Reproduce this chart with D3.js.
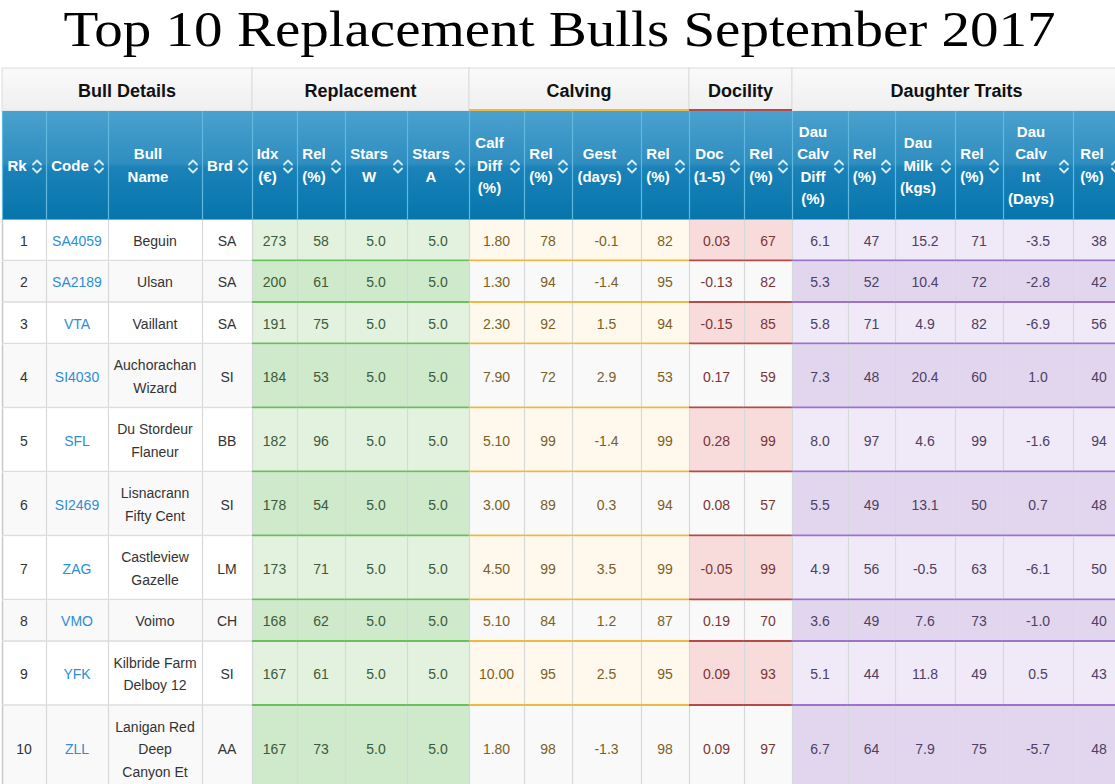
<!DOCTYPE html>
<html>
<head>
<meta charset="utf-8">
<script src="https://cdn.jsdelivr.net/npm/d3@7"></script>
<style>
  body { margin: 0; background: #fff; }
  svg { display: block; }
</style>
</head>
<body>
<svg id="chart"></svg>
<script>
// table values
var ranks      = [1, 2, 3, 4, 5, 6, 7, 8, 9, 10];
var codes      = ['SA4059', 'SA2189', 'VTA', 'SI4030', 'SFL', 'SI2469', 'ZAG', 'VMO', 'YFK', 'ZLL'];
var bullNames  = ['Beguin', 'Ulsan', 'Vaillant', 'Auchorachan\nWizard', 'Du Stordeur\nFlaneur',
                  'Lisnacrann\nFifty Cent', 'Castleview\nGazelle', 'Voimo', 'Kilbride Farm\nDelboy 12',
                  'Lanigan Red\nDeep\nCanyon Et'];
var breeds     = ['SA', 'SA', 'SA', 'SI', 'BB', 'SI', 'LM', 'CH', 'SI', 'AA'];

var replIdx    = [273, 200, 191, 184, 182, 178, 173, 168, 167, 167];
var replRel    = [58, 61, 75, 53, 96, 54, 71, 62, 61, 73];
var starsW     = [5.0, 5.0, 5.0, 5.0, 5.0, 5.0, 5.0, 5.0, 5.0, 5.0];
var starsA     = [5.0, 5.0, 5.0, 5.0, 5.0, 5.0, 5.0, 5.0, 5.0, 5.0];

var calfDiff   = [1.80, 1.30, 2.30, 7.90, 5.10, 3.00, 4.50, 5.10, 10.00, 1.80];
var calfRel    = [78, 94, 92, 72, 99, 89, 99, 84, 95, 98];
var gestDays   = [-0.1, -1.4, 1.5, 2.9, -1.4, 0.3, 3.5, 1.2, 2.5, -1.3];
var gestRel    = [82, 95, 94, 53, 99, 94, 99, 87, 95, 98];

var docility   = [0.03, -0.13, -0.15, 0.17, 0.28, 0.08, -0.05, 0.19, 0.09, 0.09];
var docRel     = [67, 82, 85, 59, 99, 57, 99, 70, 93, 97];

var dauCalvDiff    = [6.1, 5.3, 5.8, 7.3, 8.0, 5.5, 4.9, 3.6, 5.1, 6.7];
var dauCalvDiffRel = [47, 52, 71, 48, 97, 49, 56, 49, 44, 64];
var dauMilk        = [15.2, 10.4, 4.9, 20.4, 4.6, 13.1, -0.5, 7.6, 11.8, 7.9];
var dauMilkRel     = [71, 72, 82, 60, 99, 50, 63, 73, 49, 75];
var dauCalvInt     = [-3.5, -2.8, -6.9, 1.0, -1.6, 0.7, -6.1, -1.0, 0.5, -5.7];
var dauCalvIntRel  = [38, 42, 56, 40, 94, 48, 50, 40, 43, 48];

var groupNames = ['Bull Details', 'Replacement', 'Calving', 'Docility', 'Daughter Traits'];

var headerLabels = ['Rk', 'Code', 'Bull\nName', 'Brd',
                    'Idx\n(€)', 'Rel\n(%)', 'Stars\nW', 'Stars\nA',
                    'Calf\nDiff\n(%)', 'Rel\n(%)', 'Gest\n(days)', 'Rel\n(%)',
                    'Doc\n(1-5)', 'Rel\n(%)',
                    'Dau\nCalv\nDiff\n(%)', 'Rel\n(%)', 'Dau\nMilk\n(kgs)', 'Rel\n(%)', 'Dau\nCalv\nInt\n(Days)', 'Rel\n(%)'];

var title = 'Top 10 Replacement Bulls September 2017';

// column setup: which series, which group, how to print it
// d3.format gives a unicode minus, the site shows a plain hyphen
var hy = function (f) { return function (v) { return f(v).replace('\u2212', '-'); }; };
var f0 = hy(d3.format('d')), f1 = hy(d3.format('.1f')), f2 = hy(d3.format('.2f'));
var columns = [
  { values: ranks,          group: 0, fmt: f0 },
  { values: codes,          group: 0, fmt: String, link: true },
  { values: bullNames,      group: 0, fmt: String },
  { values: breeds,         group: 0, fmt: String },
  { values: replIdx,        group: 1, fmt: f0 },
  { values: replRel,        group: 1, fmt: f0 },
  { values: starsW,         group: 1, fmt: f1 },
  { values: starsA,         group: 1, fmt: f1 },
  { values: calfDiff,       group: 2, fmt: f2 },
  { values: calfRel,        group: 2, fmt: f0 },
  { values: gestDays,       group: 2, fmt: f1 },
  { values: gestRel,        group: 2, fmt: f0 },
  { values: docility,       group: 3, fmt: f2 },
  { values: docRel,         group: 3, fmt: f0 },
  { values: dauCalvDiff,    group: 4, fmt: f1 },
  { values: dauCalvDiffRel, group: 4, fmt: f0 },
  { values: dauMilk,        group: 4, fmt: f1 },
  { values: dauMilkRel,     group: 4, fmt: f0 },
  { values: dauCalvInt,     group: 4, fmt: f1 },
  { values: dauCalvIntRel,  group: 4, fmt: f0 }
];

// layout (pixels)
var colWidths = [44, 62, 94, 50, 45, 48, 62, 62, 55, 48, 69, 48, 55, 48, 56, 47, 60, 48, 70, 52];
var svgWidth = 1115, svgHeight = 784;
var tableLeft = 2, groupTop = 68, groupH = 43, headH = 109;
var lineH = 22.5, rowPad = 19;

// per group styles: [odd row, even row] fills, text colour, bottom rule
var groupFill   = [['#ffffff', '#f9f9f9'], ['#e2f2df', '#cfe9cb'], ['#fef9ec', '#f9f9f9'],
                   ['#f8dcdc', '#f9f9f9'], ['#f0e9f7', '#e2d6ef']];
var groupText   = ['#333333', '#3d5a3a', '#7c5f24', '#7b3535', '#4d4063'];
var groupRule   = ['#dddddd', '#6abf5e', '#efb743', '#b54b48', '#9b72cc'];
var groupUnder  = [null, null, '#efb743', '#b54b48', null];

var colX = [tableLeft].concat(Array.from(d3.cumsum(colWidths), function (d) { return tableLeft + d; }));
var xScale = d3.scaleOrdinal().domain(d3.range(columns.length)).range(colX.slice(0, -1));
var wScale = d3.scaleOrdinal().domain(d3.range(columns.length)).range(colWidths);

var nLines = bullNames.map(function (n) { return n.split('\n').length; });
var rowHeights = nLines.map(function (n) { return rowPad + lineH * n; });
var bodyTop = groupTop + groupH + headH;
var rowY = [bodyTop].concat(Array.from(d3.cumsum(rowHeights), function (d) { return bodyTop + d; }));
var yScale = d3.scaleOrdinal().domain(d3.range(ranks.length)).range(rowY.slice(0, -1));

var svg = d3.select('#chart').attr('width', svgWidth).attr('height', svgHeight);
var font = 'Helvetica, Arial, "Liberation Sans", sans-serif';

var defs = svg.append('defs');
var gradHead = defs.append('linearGradient').attr('id', 'gradHead').attr('x1', 0).attr('y1', 0).attr('x2', 0).attr('y2', 1);
[['0%', '#4aa1cd'], ['48%', '#2f8dc0'], ['52%', '#1b82b8'], ['100%', '#0575ab']].forEach(function (s) {
  gradHead.append('stop').attr('offset', s[0]).attr('stop-color', s[1]);
});
var gradGroup = defs.append('linearGradient').attr('id', 'gradGroup').attr('x1', 0).attr('y1', 0).attr('x2', 0).attr('y2', 1);
[['0%', '#fafafa'], ['100%', '#efefef']].forEach(function (s) {
  gradGroup.append('stop').attr('offset', s[0]).attr('stop-color', s[1]);
});

// title
svg.append('text')
  .attr('x', svgWidth / 2 + 2)
  .attr('y', 46)
  .attr('text-anchor', 'middle')
  .attr('textLength', 992)
  .attr('lengthAdjust', 'spacingAndGlyphs')
  .style('font-family', '"Liberation Serif", "Times New Roman", serif')
  .style('font-size', '50px')
  .style('fill', '#000')
  .text(title);

// ---- group header row ----
var groups = groupNames.map(function (name, gi) {
  var idx = d3.range(columns.length).filter(function (i) { return columns[i].group === gi; });
  var x0 = xScale(idx[0]), last = idx[idx.length - 1];
  return { name: name, gi: gi, x0: x0, x1: xScale(last) + wScale(last) };
});

var gh = svg.append('g').attr('class', 'group-head');
gh.selectAll('rect').data(groups).enter().append('rect')
  .attr('x', function (d) { return d.x0; })
  .attr('y', groupTop)
  .attr('width', function (d) { return d.x1 - d.x0; })
  .attr('height', groupH)
  .attr('fill', 'url(#gradGroup)')
  .attr('stroke', '#dcdcdc')
  .attr('stroke-width', 1);
gh.selectAll('line.under').data(groups.filter(function (d) { return groupUnder[d.gi]; })).enter().append('line')
  .attr('class', 'under')
  .attr('x1', function (d) { return d.x0; })
  .attr('x2', function (d) { return d.x1; })
  .attr('y1', groupTop + groupH - 1)
  .attr('y2', groupTop + groupH - 1)
  .attr('stroke', function (d) { return groupUnder[d.gi]; })
  .attr('stroke-width', 2);
gh.selectAll('text').data(groups).enter().append('text')
  .attr('x', function (d) { return (d.x0 + Math.min(d.x1, svgWidth + 6)) / 2; })
  .attr('y', groupTop + groupH / 2 + 7)
  .attr('text-anchor', 'middle')
  .style('font-family', font)
  .style('font-weight', 'bold')
  .style('font-size', '18px')
  .style('fill', '#111')
  .text(function (d) { return d.name; });

// ---- blue column header row ----
var headTop = groupTop + groupH;
var hh = svg.append('g').attr('class', 'col-head');
hh.append('rect')
  .attr('x', tableLeft).attr('y', headTop)
  .attr('width', colX[colX.length - 1] - tableLeft).attr('height', headH)
  .attr('fill', 'url(#gradHead)');

var hcell = hh.selectAll('g.hcell').data(headerLabels).enter().append('g')
  .attr('class', 'hcell')
  .attr('transform', function (d, i) { return 'translate(' + xScale(i) + ',' + headTop + ')'; });

hcell.append('line')
  .attr('x1', 0.5).attr('x2', 0.5).attr('y1', 0).attr('y2', headH)
  .attr('stroke', '#62b9e0').attr('stroke-width', 1.2);

hcell.append('text')
  .attr('text-anchor', 'middle')
  .style('font-family', font)
  .style('font-weight', 'bold')
  .style('font-size', '15px')
  .style('fill', '#fff')
  .each(function (d, i) {
    var lines = d.split('\n');
    var cx = (6 + wScale(i) - 20) / 2;
    var y0 = headH / 2 - (lines.length - 1) * lineH / 2 + 5;
    d3.select(this).selectAll('tspan').data(lines).enter().append('tspan')
      .attr('x', cx)
      .attr('y', function (l, k) { return y0 + k * lineH; })
      .text(function (l) { return l; });
  });

// sort chevrons
hcell.append('path')
  .attr('transform', function (d, i) { return 'translate(' + (wScale(i) - 9) + ',' + (headH / 2 + 1) + ')'; })
  .attr('d', 'M-4,-2 L0,-6 L4,-2 M-4,2 L0,6 L4,2')
  .attr('fill', 'none')
  .attr('stroke', '#d4eaf5')
  .attr('stroke-width', 1.8)
  .attr('stroke-linecap', 'round')
  .attr('stroke-linejoin', 'round');

hh.append('line')
  .attr('x1', tableLeft).attr('x2', colX[colX.length - 1])
  .attr('y1', headTop + headH - 0.5).attr('y2', headTop + headH - 0.5)
  .attr('stroke', '#5ab6df').attr('stroke-width', 1);

// ---- body ----
var cells = [];
ranks.forEach(function (r, ri) {
  columns.forEach(function (c, ci) {
    cells.push({ row: ri, col: ci, group: c.group, link: !!c.link, text: c.fmt(c.values[ri]) });
  });
});

var body = svg.append('g').attr('class', 'body');
var cell = body.selectAll('g.cell').data(cells).enter().append('g')
  .attr('class', 'cell')
  .attr('transform', function (d) { return 'translate(' + xScale(d.col) + ',' + yScale(d.row) + ')'; });

cell.append('rect')
  .attr('width', function (d) { return wScale(d.col); })
  .attr('height', function (d) { return rowHeights[d.row]; })
  .attr('fill', function (d) { return groupFill[d.group][d.row % 2]; });

// vertical separators
cell.append('line')
  .attr('x1', 0.5).attr('x2', 0.5)
  .attr('y1', 0).attr('y2', function (d) { return rowHeights[d.row]; })
  .attr('stroke', function (d) { return d.col === 0 ? '#c8c8c8' : '#d6d9dc'; })
  .attr('stroke-width', function (d) { return d.col === 0 ? 1.5 : 1.2; });

// row bottom rules
cell.append('line')
  .attr('x1', 0).attr('x2', function (d) { return wScale(d.col); })
  .attr('y1', function (d) { return rowHeights[d.row] - 1; })
  .attr('y2', function (d) { return rowHeights[d.row] - 1; })
  .attr('stroke', function (d) { return groupRule[d.group]; })
  .attr('stroke-width', function (d) { return d.group === 0 ? 1.5 : 2; });

cell.append('text')
  .attr('text-anchor', 'middle')
  .style('font-family', font)
  .style('font-size', '14px')
  .style('fill', function (d) { return d.link ? '#2d8ed4' : groupText[d.group]; })
  .each(function (d) {
    var lines = d.text.split('\n');
    var h = rowHeights[d.row];
    var y0 = h / 2 - (lines.length - 1) * lineH / 2 + 5;
    d3.select(this).selectAll('tspan').data(lines).enter().append('tspan')
      .attr('x', wScale(d.col) / 2)
      .attr('y', function (l, k) { return y0 + k * lineH; })
      .text(function (l) { return l; });
  });
</script>
</body>
</html>
